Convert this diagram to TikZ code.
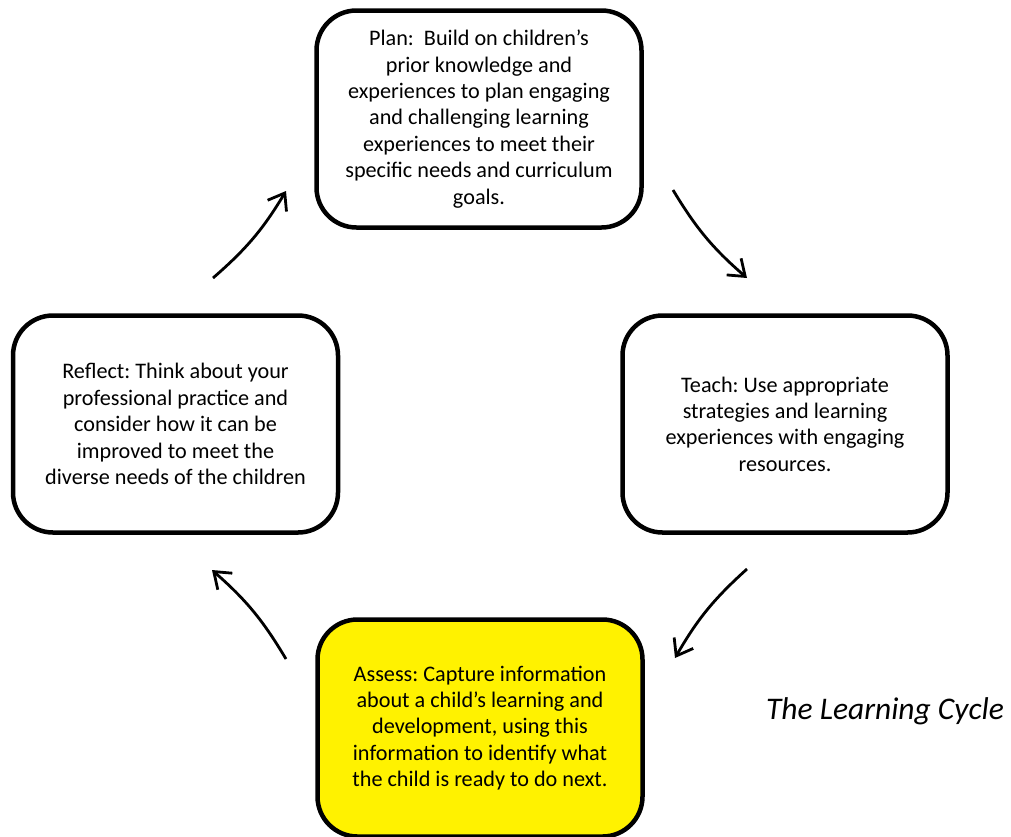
\documentclass[tikz,border=0pt]{standalone}
\usepackage{fontspec}
\setmainfont{Carlito}
\usetikzlibrary{arrows.meta}
\frenchspacing
\begin{document}
\begin{tikzpicture}[x=1pt,y=-1pt,
  stagebox/.style={draw=black, line width=4.5pt, rounded corners=40pt,
    minimum width=325pt, minimum height=217pt, align=center, inner sep=0pt,
    font=\fontsize{22.2}{26.4}\selectfont},
  cyclearrow/.style={line width=2.8pt, -{Straight Barb[length=15pt,width=22pt,line width=2.8pt]}, bend right=9}
]
\useasboundingbox (0,0) rectangle (1011,836);
\node[stagebox] (plan) at (479,119) {Plan:\ \ Build on children’s\\prior knowledge and\\experiences to plan engaging\\and challenging learning\\experiences to meet their\\specific needs and curriculum\\goals.};
\node[stagebox] (reflect) at (175.5,424) {Reflect: Think about your\\professional practice and\\consider how it can be\\improved to meet the\\diverse needs of the children};
\node[stagebox] (teach) at (785,424) {Teach: Use appropriate\\strategies and learning\\experiences with engaging\\resources.};
\node[stagebox, fill=yellow] (assess) at (480,728) {Assess: Capture information\\about a child’s learning and\\development, using this\\information to identify what\\the child is ready to do next.};
\node[anchor=base, font=\fontsize{31.5}{36}\selectfont\itshape] (caption) at (885,719) {The Learning Cycle};

\coordinate (s1) at (213,278); \coordinate (e1) at (286,191);
\coordinate (s2) at (673,190); \coordinate (e2) at (747,278);
\coordinate (s3) at (747,569); \coordinate (e3) at (675,658);
\coordinate (s4) at (286,659); \coordinate (e4) at (212,570);
\draw[cyclearrow] (s1) to (e1);
\draw[cyclearrow] (s2) to (e2);
\draw[cyclearrow] (s3) to (e3);
\draw[cyclearrow] (s4) to (e4);
\end{tikzpicture}
\end{document}
